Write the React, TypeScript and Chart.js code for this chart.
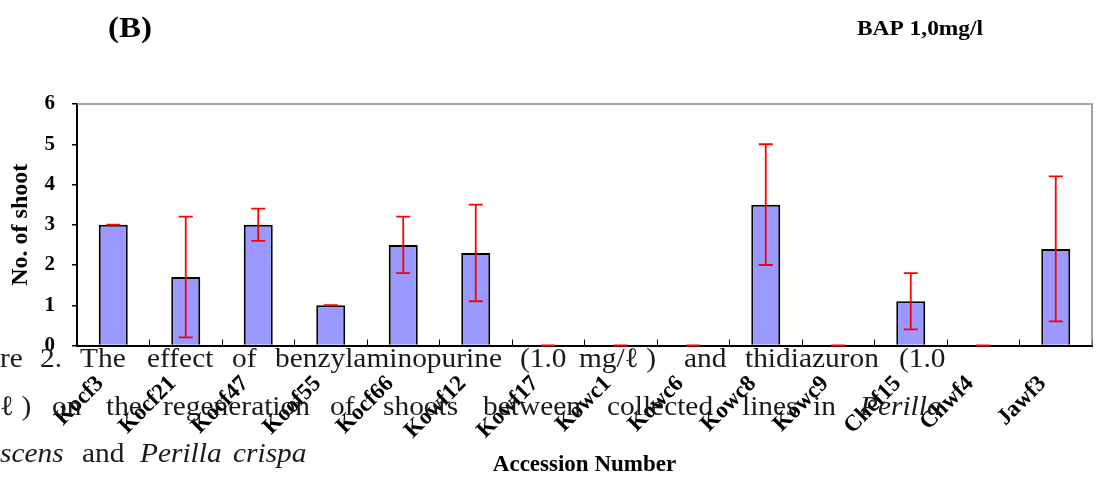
import React, { useEffect, useRef } from "react";
import { Chart, registerables } from "chart.js";

Chart.register(...registerables);

const categories = [
  "Kocf3", "Kocf21", "Kocf47", "Koof55", "Kocf66", "Kowf12", "Kowf17",
  "Kowc1", "Kowc6", "Kowc8", "Kowc9", "Chcf15", "Chwf4", "Jawf3",
];
const shootMeans = [3.0, 1.7, 3.0, 1.0, 2.5, 2.3, 0, 0, 0, 3.5, 0, 1.1, 0, 2.4];
const shootErrors = [0, 1.5, 0.4, 0, 0.7, 1.2, 0, 0, 0, 1.5, 0, 0.7, 0, 1.8];
const yMin = 0;
const yMax = 6;
const yStep = 1;

const panelLabel = "(B)";
const treatmentLabel = "BAP 1,0mg/l";
const yAxisTitle = "No. of shoot";
const xAxisTitle = "Accession Number";

// Overlapping caption text from the scanned page: [text, startX, italic]
const captionLine1: [string, number, boolean][] = [
  ["re", 0, false], ["2.", 40, false], ["The", 80, false],
  ["effect", 147, false], ["of", 232, false],
  ["benzylaminopurine", 275, false], ["(1.0", 520, false],
  ["mg/\u2113 )", 579, false], ["and", 684, false],
  ["thidiazuron", 745, false], ["(1.0", 899, false],
];
const captionLine2: [string, number, boolean][] = [
  ["\u2113 )", 0, false], ["on", 52, false], ["the", 106, false],
  ["regeneration", 163, false], ["of", 330, false],
  ["shoots", 383, false], ["between", 483, false],
  ["collected", 607, false], ["lines", 742, false],
  ["in", 813, false], ["Perilla", 860, true],
];
const captionLine3: [string, number, boolean][] = [
  ["scens", 0, true], ["and", 82, false],
  ["Perilla", 140, true], ["crispa", 233, true],
];

const SERIF = "'Liberation Serif', 'Times New Roman', serif";

function drawFitted(
  ctx: CanvasRenderingContext2D, text: string, x0: number, x1: number,
  baseline: number, font: string, color: string
) {
  ctx.save();
  ctx.font = font;
  ctx.fillStyle = color;
  ctx.textAlign = "left";
  ctx.textBaseline = "alphabetic";
  const w = ctx.measureText(text).width || 1;
  ctx.translate(x0, baseline);
  ctx.scale((x1 - x0) / w, 1);
  ctx.fillText(text, 0, 0);
  ctx.restore();
}

function drawScaled(
  ctx: CanvasRenderingContext2D, text: string, x0: number, baseline: number,
  font: string, sx: number, color: string
) {
  ctx.save();
  ctx.font = font;
  ctx.fillStyle = color;
  ctx.textAlign = "left";
  ctx.textBaseline = "alphabetic";
  ctx.translate(x0, baseline);
  ctx.scale(sx, 1);
  ctx.fillText(text, 0, 0);
  ctx.restore();
}

const errorBarPlugin = {
  id: "errorBars",
  afterDatasetsDraw(chart: any) {
    const meta = chart.getDatasetMeta(0);
    const ys = chart.scales.y;
    const ctx = chart.ctx as CanvasRenderingContext2D;
    ctx.save();
    ctx.strokeStyle = "#ff0000";
    ctx.lineWidth = 1.8;
    meta.data.forEach((bar: any, i: number) => {
      const m = shootMeans[i];
      const e = shootErrors[i];
      const x = bar.x;
      const yt = ys.getPixelForValue(m + e);
      const yb = ys.getPixelForValue(Math.max(0, m - e));
      const cap = 7;
      ctx.beginPath();
      ctx.moveTo(x, yt);
      ctx.lineTo(x, yb);
      ctx.moveTo(x - cap, yt);
      ctx.lineTo(x + cap, yt);
      ctx.moveTo(x - cap, yb);
      ctx.lineTo(x + cap, yb);
      ctx.stroke();
    });
    ctx.restore();
  },
};

const decorPlugin = {
  id: "decor",
  afterDraw(chart: any) {
    const ctx = chart.ctx as CanvasRenderingContext2D;
    const a = chart.chartArea;
    ctx.save();
    ctx.strokeStyle = "#8a8a8a";
    ctx.lineWidth = 1.6;
    ctx.beginPath();
    ctx.moveTo(a.left, a.top);
    ctx.lineTo(a.right, a.top);
    ctx.lineTo(a.right, a.bottom);
    ctx.stroke();
    ctx.restore();

    drawFitted(ctx, panelLabel, 108, 152, 37, `bold 29px ${SERIF}`, "#000");
    drawFitted(ctx, treatmentLabel, 857, 983, 35, `bold 21px ${SERIF}`, "#000");

    const lines = [
      { words: captionLine1, y: 367 },
      { words: captionLine2, y: 415 },
      { words: captionLine3, y: 462 },
    ];
    lines.forEach((ln) => {
      ln.words.forEach(([t, x0, it]) => {
        drawScaled(ctx, t, x0, ln.y, `${it ? "italic " : ""}28px ${SERIF}`, 1.05, "#1a1a1a");
      });
    });
  },
};

export default function App() {
  const ref = useRef<HTMLCanvasElement>(null);
  useEffect(() => {
    if (!ref.current) return;
    const chart = new Chart(ref.current, {
      type: "bar",
      data: {
        labels: categories,
        datasets: [
          {
            label: yAxisTitle,
            data: shootMeans,
            backgroundColor: "#9999ff",
            borderColor: "#000000",
            borderWidth: 2,
            borderSkipped: "start",
            barPercentage: 0.4,
            categoryPercentage: 1,
          },
        ],
      },
      options: {
        responsive: false,
        animation: false,
        devicePixelRatio: 1,
        layout: { padding: { top: 104, right: 4, left: 0, bottom: 0 } },
        plugins: {
          legend: { display: false },
          tooltip: { enabled: false },
          title: { display: false },
        },
        scales: {
          x: {
            type: "category",
            afterFit: (s: any) => {
              s.height = 138.5;
              s.paddingLeft = 0;
              s.paddingRight = 0;
            },
            grid: {
              display: true,
              drawOnChartArea: false,
              drawTicks: true,
              tickLength: -6,
              offset: true,
              color: "#000",
              lineWidth: 1,
            },
            border: { display: true, color: "#000", width: 2 },
            ticks: {
              autoSkip: false,
              maxRotation: 45,
              minRotation: 45,
              labelOffset: -13,
              padding: 31,
              color: "#000",
              font: { family: SERIF, size: 23, weight: "bold" },
            },
            title: {
              display: true,
              text: xAxisTitle,
              color: "#000",
              font: { family: SERIF, size: 23, weight: "bold" },
              padding: { top: 0, bottom: 5 },
            },
          },
          y: {
            min: yMin,
            max: yMax,
            afterFit: (s: any) => {
              s.width = 77;
              s.paddingTop = 0;
              s.paddingBottom = 0;
            },
            grid: {
              display: true,
              drawOnChartArea: false,
              drawTicks: true,
              tickLength: 5,
              color: "#000",
              lineWidth: 1.5,
            },
            border: { display: true, color: "#000", width: 2 },
            ticks: {
              stepSize: yStep,
              padding: 17,
              color: "#000",
              font: { family: SERIF, size: 21, weight: "bold" },
            },
            title: {
              display: true,
              text: yAxisTitle,
              color: "#000",
              font: { family: SERIF, size: 24, weight: "bold" },
              padding: { top: 6, bottom: 0 },
            },
          },
        },
      },
      plugins: [errorBarPlugin, decorPlugin],
    } as any);
    return () => chart.destroy();
  }, []);

  return (
    <div style={{ position: "absolute", left: 0, top: 0, width: 1096, height: 484, background: "#fff" }}>
      <canvas ref={ref} width={1096} height={484} style={{ display: "block" }} />
    </div>
  );
}
